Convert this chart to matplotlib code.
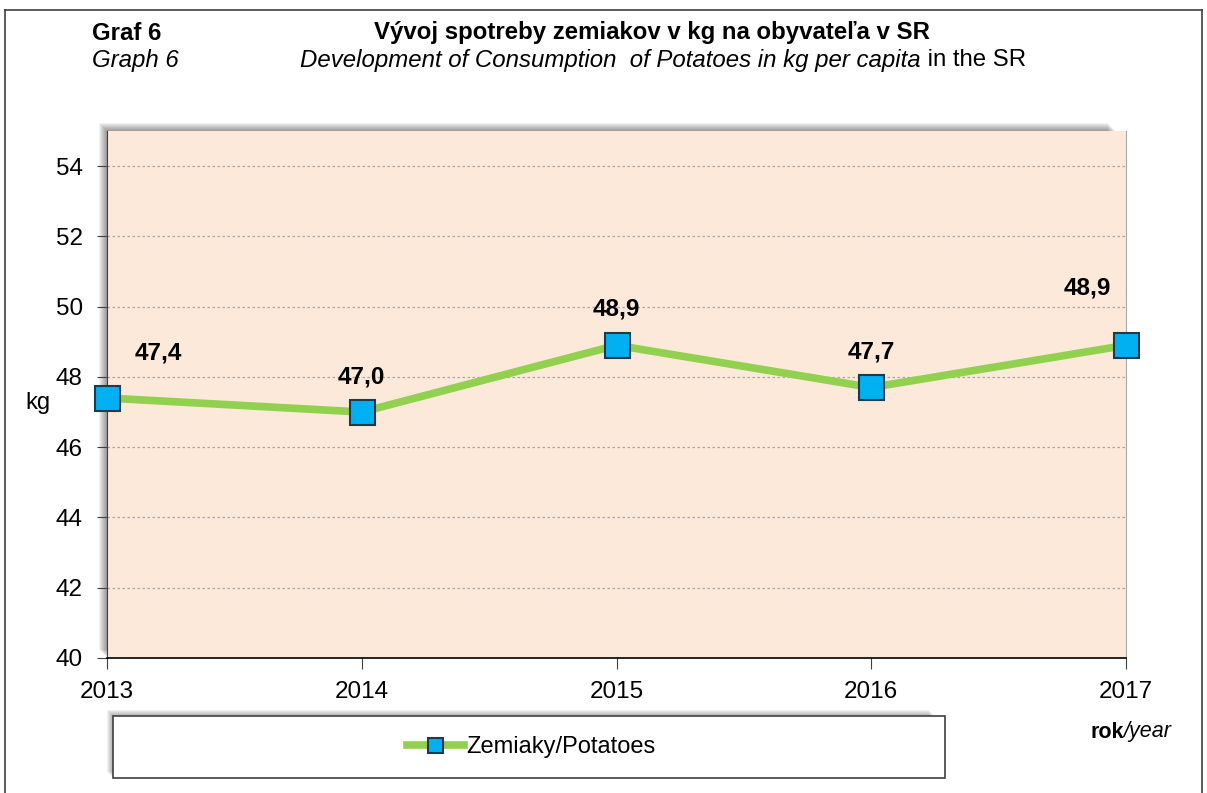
from matplotlib.patches import Rectangle
from matplotlib.lines import Line2D
import matplotlib.pyplot as plt

# data
years = [2013, 2014, 2015, 2016, 2017]
consumption = [47.4, 47.0, 48.9, 47.7, 48.9]
labels = ["47,4", "47,0", "48,9", "47,7", "48,9"]
# label offsets from the marker, pixels (x right, y up)
label_offsets = [(51, 45), (0, 35), (0, 36), (0, 35), (-39, 57)]
yticks = [40, 42, 44, 46, 48, 50, 52, 54]


def main() -> None:
    plt.rcParams["font.family"] = ["Liberation Sans", "DejaVu Sans"]
    W, H = 1207, 793
    fig = plt.figure(figsize=(W / 100, H / 100), dpi=100)
    fig.set_facecolor("white")

    def fx(px):
        return px / W

    def fy(py):
        return 1 - py / H

    # outer frame
    fig.add_artist(Line2D([fx(5), fx(1202)], [fy(10), fy(10)], color="#404040", lw=1.2))
    fig.add_artist(Line2D([fx(5), fx(5)], [fy(10), 0], color="#404040", lw=1.2))
    fig.add_artist(Line2D([fx(1202), fx(1202)], [fy(10), 0], color="#404040", lw=1.2))

    # titles
    fs_t = 17.3
    fig.text(fx(92), fy(33), "Graf 6", fontsize=fs_t, fontweight="bold", va="center")
    fig.text(fx(652), fy(33), "Vývoj spotreby zemiakov v kg na obyvateľa v SR",
             fontsize=fs_t, fontweight="bold", va="center", ha="center")
    fig.text(fx(92), fy(60), "Graph 6", fontsize=fs_t, style="italic", va="center")
    t = fig.text(fx(300), fy(60), "Development of Consumption  of Potatoes in kg per capita",
                 fontsize=fs_t, style="italic", va="center")
    fig.canvas.draw()
    bb = t.get_window_extent()
    fig.text(bb.x1 / W, fy(60), " in the SR", fontsize=fs_t, va="center")

    # axes
    l, r, top, bot = 107, 1126, 131, 658
    ax = fig.add_axes([fx(l), fy(bot), fx(r - l), (bot - top) / H])
    ax.set_facecolor("#FDE9D9")

    # shadows (soft, offset up-left)
    def shadow(x0, y0, w, h, n=8):
        for i in range(n):
            d = i + 1
            fig.add_artist(Rectangle((fx(x0 - d), fy(y0 - d + h)), fx(w), h / H,
                                     transform=fig.transFigure, facecolor="black",
                                     alpha=0.055, edgecolor="none", zorder=-1))
    shadow(l, top, r - l - 10, bot - top)

    ax.plot(years, consumption, color="#92D050", lw=5.5, marker="s", markersize=18,
            markerfacecolor="#00B0F0", markeredgecolor="#1F3A4D", markeredgewidth=1.5,
            clip_on=False, zorder=5, label="Zemiaky/Potatoes")
    for x, y, s, (dx, dy) in zip(years, consumption, labels, label_offsets):
        ax.annotate(s, (x, y), xytext=(dx * 0.72, dy * 0.72), textcoords="offset points",
                    ha="center", va="center", fontsize=17.5, fontweight="bold")

    ax.set_xlim(2013, 2017)
    ax.set_ylim(40, 55)
    ax.set_xticks(years)
    ax.set_yticks(yticks)
    ax.grid(axis="y", color="#A6A6A6", linestyle=(0, (2, 2)), lw=0.9)
    ax.set_axisbelow(True)
    ax.tick_params(axis="both", direction="out", labelsize=17.5, color="#404040")
    ax.tick_params(axis="y", length=7, pad=10.5)
    ax.tick_params(axis="x", length=8, pad=8.5)
    ax.spines["top"].set_visible(False)
    ax.spines["right"].set_color("#A6A6A6")
    ax.spines["left"].set_color("#404040")
    ax.spines["bottom"].set_color("black")
    ax.spines["bottom"].set_linewidth(1.2)

    fig.text(fx(38), fy(403), "kg", fontsize=17, va="center", ha="center")
    r1 = fig.text(fx(1090), fy(732), "rok", fontsize=15.5, fontweight="bold", va="center")
    fig.canvas.draw()
    fig.text(r1.get_window_extent().x1 / W, fy(732), "/year", fontsize=15.5,
             style="italic", va="center")

    # legend box
    lx0, ly0, lx1, ly1 = 113, 716, 945, 778
    shadow(lx0, ly0, lx1 - lx0 - 10, ly1 - ly0, n=6)
    fig.add_artist(Rectangle((fx(lx0), fy(ly1)), fx(lx1 - lx0), (ly1 - ly0) / H,
                             transform=fig.transFigure, facecolor="white",
                             edgecolor="#404040", lw=1.2, zorder=2))
    h, lab = ax.get_legend_handles_labels()
    leg = fig.legend(h, lab, loc="center", bbox_to_anchor=(fx(531), fy(747)),
                     frameon=False, fontsize=17, handlelength=2.4, handletextpad=0.1,
                     markerscale=0.6)
    leg.set_zorder(3)

    fig.savefig("out.png", dpi=100)
    plt.close(fig)


if __name__ == "__main__":
    main()
